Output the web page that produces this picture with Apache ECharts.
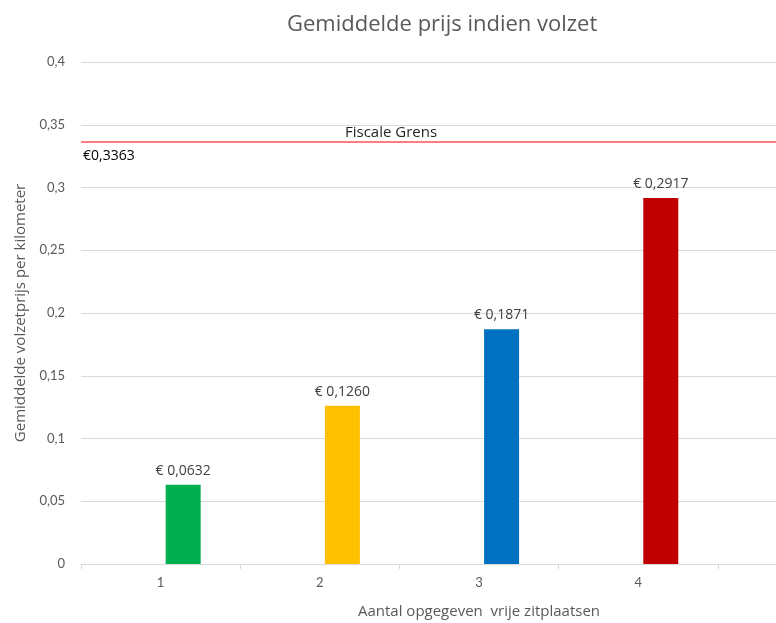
<!DOCTYPE html>
<html>
<head>
<meta charset="utf-8">
<script src="https://cdn.jsdelivr.net/npm/echarts@6/dist/echarts.min.js"></script>
<style>
  html, body { margin: 0; padding: 0; background: #fff; }
  #chart { width: 776px; height: 623px; }
</style>
</head>
<body>
<div id="chart"></div>
<script>
  // aantal vrije zitplaatsen (5e categorie is leeg, zoals in het origineel)
  const categories = ['1', '2', '3', '4', ''];
  const prices = [0.0632, 0.1260, 0.1871, 0.2917, null];
  const fiscalLimit = 0.3363;
  const limitName = 'Fiscale Grens';
  const yTicks = { min: 0, max: 0.4, interval: 0.05 };

  const barColors = ['#00b050', '#ffc000', '#0070c0', '#c00000'];
  const font = '"Open Sans", sans-serif';
  const tickFont = 'Lato, sans-serif';

  function comma(v, digits) {
    const s = digits == null ? String(Number(v.toFixed(4))) : v.toFixed(digits);
    return s.replace('.', ',');
  }

  const chart = echarts.init(document.getElementById('chart'));

  const option = {
    backgroundColor: '#fff',
    textStyle: { fontFamily: font },
    title: {
      text: 'Gemiddelde prijs indien volzet',
      left: 282,
      top: 9,
      textStyle: { color: '#595959', fontSize: 22, fontWeight: 'normal', fontFamily: font }
    },
    grid: {
      left: 81,
      right: -101,
      top: 62,
      bottom: 59,
      outerBoundsMode: 'none'
    },
    xAxis: {
      type: 'category',
      data: categories,
      name: 'Aantal opgegeven  vrije zitplaatsen',
      nameLocation: 'middle',
      nameGap: 40,
      nameTextStyle: { color: '#595959', fontSize: 15, fontFamily: font },
      axisLine: { lineStyle: { color: '#d9d9d9', width: 1 } },
      axisTick: { show: true, length: 5, interval: 0, lineStyle: { color: '#d9d9d9' } },
      axisLabel: { color: '#595959', fontSize: 13, margin: 12, interval: 0, fontFamily: tickFont }
    },
    yAxis: {
      type: 'value',
      min: yTicks.min,
      max: yTicks.max,
      interval: yTicks.interval,
      name: 'Gemiddelde volzetprijs per kilometer',
      nameLocation: 'middle',
      nameGap: 52,
      nameTextStyle: { color: '#595959', fontSize: 15, fontFamily: font },
      axisLine: { show: false },
      axisTick: { show: false },
      axisLabel: {
        color: '#595959',
        fontSize: 13,
        margin: 16,
        fontFamily: tickFont,
        formatter: function (v) { return comma(v); }
      },
      splitLine: { lineStyle: { color: '#d9d9d9', width: 1 } }
    },
    series: [
      {
        // lege reeks zodat de balken rechts van het midden staan
        name: 'leeg',
        type: 'bar',
        barWidth: 35,
        barGap: '29%',
        data: categories.map(function () { return null; }),
        silent: true
      },
      {
        name: 'Prijs',
        type: 'bar',
        barWidth: 35,
        barGap: '29%',
        data: prices.map(function (v, i) {
          return { value: v, itemStyle: { color: barColors[i] } };
        }),
        label: {
          show: true,
          position: 'top',
          distance: 7,
          color: '#404040',
          fontSize: 14,
          fontFamily: font,
          formatter: function (p) { return '€ ' + comma(p.value, 4); }
        },
        markLine: {
          silent: true,
          symbol: 'none',
          precision: 4,
          animation: false,
          lineStyle: { color: '#ff7c80', type: 'solid', width: 2 },
          data: [
            {
              yAxis: fiscalLimit,
              name: limitName,
              label: {
                position: 'insideStartTop',
                distance: [264, 2],
                formatter: '{b}',
                color: '#262626',
                fontSize: 15,
                fontFamily: font
              }
            },
            {
              yAxis: fiscalLimit,
              label: {
                position: 'insideStartBottom',
                distance: [2, 7],
                formatter: function () { return '€' + comma(fiscalLimit, 4); },
                color: '#000',
                fontSize: 14,
                fontFamily: font
              }
            }
          ]
        }
      }
    ]
  };

  chart.setOption(option);
  window.addEventListener('resize', () => { chart.resize(); });
</script>
</body>
</html>
